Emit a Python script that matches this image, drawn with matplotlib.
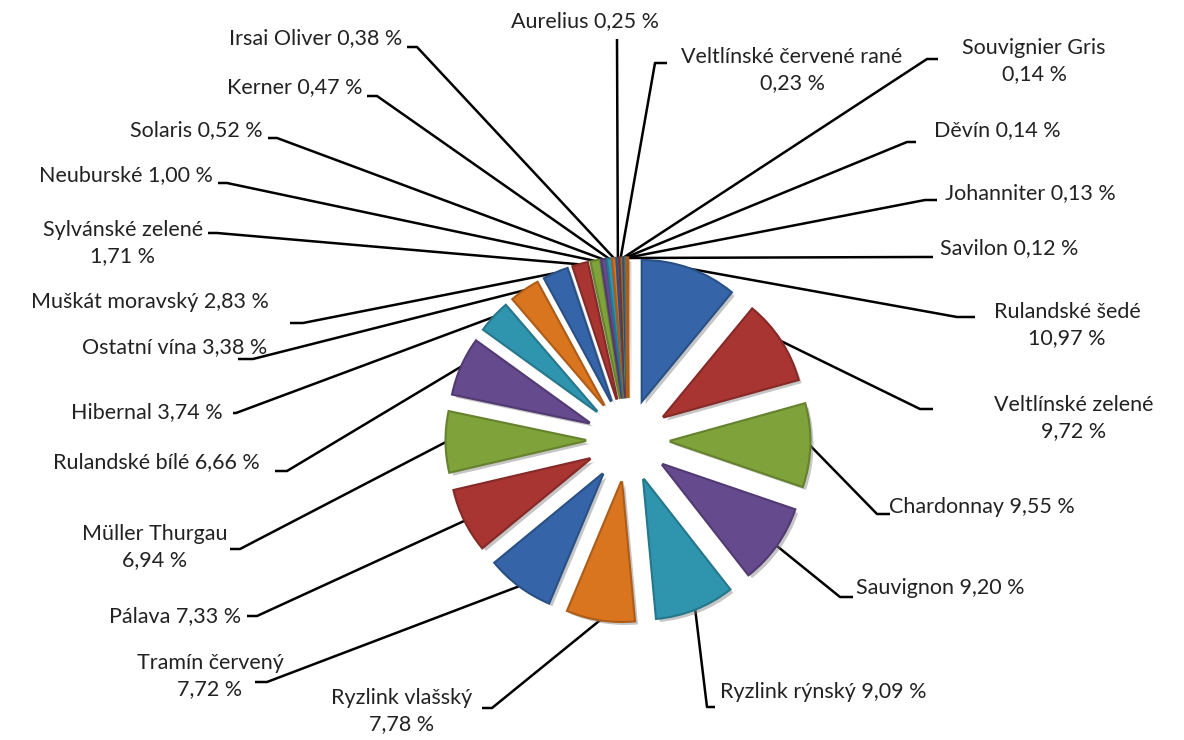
import matplotlib
matplotlib.use("Agg")
import matplotlib.pyplot as plt
import matplotlib.patheffects as pe
import numpy as np

# ---------------- data ----------------
varieties = [
    "Rulandské šedé", "Veltlínské zelené", "Chardonnay", "Sauvignon",
    "Ryzlink rýnský", "Ryzlink vlašský", "Tramín červený", "Pálava",
    "Müller Thurgau", "Rulandské bílé", "Hibernal", "Ostatní vína",
    "Muškát moravský", "Sylvánské zelené", "Neuburské", "Solaris",
    "Kerner", "Irsai Oliver", "Aurelius", "Veltlínské červené rané",
    "Souvignier Gris", "Děvín", "Johanniter", "Savilon",
]
shares = [
    10.97, 9.72, 9.55, 9.20,
    9.09, 7.78, 7.72, 7.33,
    6.94, 6.66, 3.74, 3.38,
    2.83, 1.71, 1.00, 0.52,
    0.47, 0.38, 0.25, 0.23,
    0.14, 0.14, 0.13, 0.12,
]
# label text broken into two lines for these
two_line = {"Rulandské šedé", "Veltlínské zelené", "Ryzlink vlašský",
            "Tramín červený", "Müller Thurgau", "Sylvánské zelené",
            "Veltlínské červené rané", "Souvignier Gris"}

# ---------------- style / layout ----------------
W, H = 1184, 740
palette = ["#3565A8", "#A83532", "#7FA23A", "#654A8E", "#2F95AE", "#D9741F"]

# label layout in pixel coords (top-left origin):
text_pos = {
    "Rulandské šedé": (1067, 325), "Veltlínské zelené": (1074, 418),
    "Chardonnay": (982, 507), "Sauvignon": (940, 588),
    "Ryzlink rýnský": (823, 692), "Ryzlink vlašský": (402, 711),
    "Tramín červený": (210, 676), "Pálava": (175, 616),
    "Müller Thurgau": (155, 547), "Rulandské bílé": (156, 462),
    "Hibernal": (147, 412), "Ostatní vína": (175, 347),
    "Muškát moravský": (150, 302), "Sylvánské zelené": (123, 243),
    "Neuburské": (126, 175), "Solaris": (196, 130),
    "Kerner": (295, 87), "Irsai Oliver": (316, 38),
    "Aurelius": (585, 21), "Veltlínské červené rané": (792, 70),
    "Souvignier Gris": (1034, 61), "Děvín": (997, 130),
    "Johanniter": (1030, 193), "Savilon": (1009, 248),
}
# leader elbow (x, y) and tick end x
elbow = {
    "Rulandské šedé": (957, 317, 975), "Veltlínské zelené": (920, 409, 933),
    "Chardonnay": (877, 514, 890), "Sauvignon": (840, 597, 853),
    "Ryzlink rýnský": (707, 707, 715), "Ryzlink vlašský": (492, 708, 482),
    "Tramín červený": (267, 682, 255), "Pálava": (257, 616, 247),
    "Müller Thurgau": (240, 549, 230), "Rulandské bílé": (287, 471, 275),
    "Hibernal": (236, 413, 233), "Ostatní vína": (253, 359, 238),
    "Muškát moravský": (303, 323, 290), "Sylvánské zelené": (217, 233, 208),
    "Neuburské": (227, 183, 218), "Solaris": (277, 138, 268),
    "Kerner": (377, 96, 367), "Irsai Oliver": (417, 47, 407),
    "Aurelius": (617, 39, 617), "Veltlínské červené rané": (655, 63, 667),
    "Souvignier Gris": (927, 59, 938), "Děvín": (907, 142, 916),
    "Johanniter": (925, 200, 937), "Savilon": (920, 257, 933),
}
pie_center_px = (628, 440)
pie_radius_px = 140
explode_px = 42

plt.rcParams["font.family"] = ["Lato", "DejaVu Sans"]

fig = plt.figure(figsize=(W / 100, H / 100), dpi=100)
ax = fig.add_axes([0, 0, 1, 1])

def flip(y):
    return H - y

colors = [palette[i % len(palette)] for i in range(len(shares))]
wedges, _ = ax.pie(
    shares,
    colors=colors,
    startangle=90,
    counterclock=False,
    explode=[explode_px] * len(shares),
    radius=pie_radius_px,
    center=(pie_center_px[0], flip(pie_center_px[1])),
    frame=True,
    wedgeprops=dict(linewidth=0.8),
)
ax.set_xlim(0, W)
ax.set_ylim(0, H)
ax.set_aspect("equal")
ax.axis("off")

def darker(c, f=0.75):
    r, g, b = matplotlib.colors.to_rgb(c)
    return (r * f, g * f, b * f)

for w, c in zip(wedges, colors):
    w.set_edgecolor(darker(c, 0.8))
    w.set_zorder(2)
    w.set_path_effects([
        pe.SimplePatchShadow(offset=(2.5, -2.5), shadow_rgbFace="#808080", alpha=0.45),
        pe.Stroke(linewidth=2.2, foreground=darker(c, 0.8)),
        pe.Normal(),
    ])

def fmt(v):
    return f"{v:.2f}".replace(".", ",") + " %"

for w, name, v in zip(wedges, varieties, shares):
    mid = np.deg2rad((w.theta1 + w.theta2) / 2.0)
    cx, cy = w.center
    sx = cx + w.r * np.cos(mid)
    sy = cy + w.r * np.sin(mid)
    ex, ey, tx = elbow[name]
    ax.plot([sx, ex, tx], [sy, flip(ey), flip(ey)], color="black",
            lw=1.8, solid_capstyle="butt", zorder=1)
    sep = "\n" if name in two_line else " "
    label = name + sep + fmt(v)
    px, py = text_pos[name]
    ax.text(px, flip(py), label, ha="center", va="center", fontsize=15.5,
            color="#222222", linespacing=1.35, zorder=3)

fig.savefig("out.png", dpi=100)
